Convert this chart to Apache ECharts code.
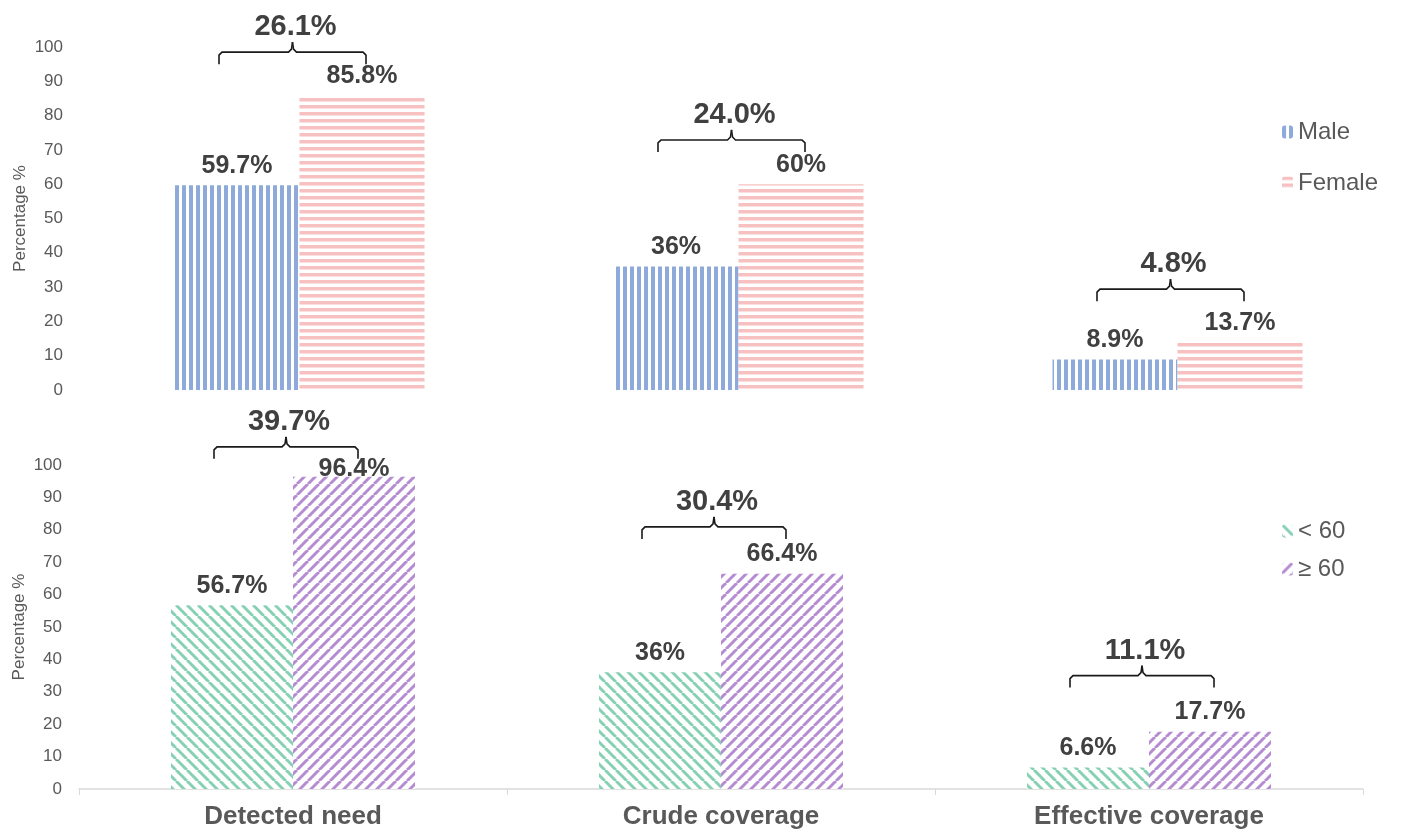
<!DOCTYPE html>
<html>
<head>
<meta charset="utf-8">
<script src="https://cdn.jsdelivr.net/npm/echarts@6/dist/echarts.min.js"></script>
<style>
html,body{margin:0;padding:0;background:#fff;}
#c{width:1401px;height:835px;}
</style>
</head>
<body>
<div id="c"></div>
<script>
// ---- data ----
const categories = ['Detected need', 'Crude coverage', 'Effective coverage'];
const yTicks = [0, 10, 20, 30, 40, 50, 60, 70, 80, 90, 100];
const maleValues = [59.7, 36, 8.9];
const femaleValues = [85.8, 60, 13.7];
const sexDiffLabels = ['26.1%', '24.0%', '4.8%'];
const sexBracketLevel = [98.5, 72.9, 29.4];
const under60Values = [56.7, 36, 6.6];
const over60Values = [96.4, 66.4, 17.7];
const ageDiffLabels = ['39.7%', '30.4%', '11.1%'];
const ageBracketLevel = [105.6, 80.9, 35];

// ---- patterns ----
function pattern(kind, color) {
  const c = document.createElement('canvas');
  let w = 7, h = 7;
  if (kind === 'diagR' || kind === 'diagL') { w = 11; h = 11; }
  c.width = w; c.height = h;
  const g = c.getContext('2d');
  g.fillStyle = '#ffffff'; g.fillRect(0, 0, w, h);
  g.fillStyle = color; g.strokeStyle = color;
  if (kind === 'vert') { g.fillRect(0, 0, 4, h); }
  else if (kind === 'horiz') { g.fillRect(0, 0, w, 3.5); }
  else {
    g.lineWidth = 3;
    for (let k = -1; k <= 1; k++) {
      g.beginPath();
      if (kind === 'diagR') { g.moveTo(k * w, 0); g.lineTo(k * w + w, h); }
      else { g.moveTo(k * w, h); g.lineTo(k * w + w, 0); }
      g.stroke();
    }
  }
  return { image: c, repeat: 'repeat' };
}
const FONT = "'Liberation Sans', Arial, sans-serif";
const TXT = '#595959';
const VAL = '#404040';

function barLabel() {
  return { show: true, position: 'top', distance: 7, fontFamily: FONT, fontSize: 25, fontWeight: 'bold', color: VAL, formatter: '{c}%' };
}

function bracket(barW, texts) {
  return function (params, api) {
    const p = api.coord([api.value(0), api.value(1)]);
    const cx = p[0], y = p[1];
    const xl = cx - barW / 2 - 18, xr = cx + barW / 2 + 4;
    const xm = (xl + xr) / 2;
    const st = { stroke: '#1a1a1a', lineWidth: 1.6, fill: null };
    return {
      type: 'group',
      children: [
        { type: 'polyline', shape: { points: [[xl, y + 12], [xl, y + 3], [xl + 3, y], [xm - 4, y], [xm - 1, y - 3], [xm, y - 10]] }, style: st },
        { type: 'polyline', shape: { points: [[xr, y + 12], [xr, y + 3], [xr - 3, y], [xm + 4, y], [xm + 1, y - 3], [xm, y - 10]] }, style: st },
        { type: 'text', x: xm + 3, y: y - 25, style: { text: texts[params.dataIndex], fontFamily: FONT, fontSize: 29, fontWeight: 'bold', fill: VAL, align: 'center', verticalAlign: 'middle' } }
      ]
    };
  };
}

const yAxisBase = (gi) => ({
  type: 'value', gridIndex: gi, min: yTicks[0], max: yTicks[yTicks.length - 1], interval: yTicks[1] - yTicks[0],
  name: 'Percentage %', nameLocation: 'middle', nameGap: 51, nameRotate: 90, nameMoveOverlap: false,
  nameTextStyle: { fontFamily: FONT, fontSize: 17, color: TXT },
  axisLine: { show: false }, axisTick: { show: false }, splitLine: { show: false },
  axisLabel: { fontFamily: FONT, fontSize: 17, color: TXT, margin: 17 }
});

const chart = echarts.init(document.getElementById('c'), null, { renderer: 'canvas' });
const bluePat = pattern('vert', '#8eaadb');
const pinkPat = pattern('horiz', '#f7c1c1');
const greenPat = pattern('diagR', '#86d0b4');
const purplePat = pattern('diagL', '#b58cd2');

const over60Data = over60Values.map((v, i) => i === 0 ? { value: v, label: { distance: -5 } } : v);

chart.setOption({
  animation: false,
  backgroundColor: '#ffffff',
  grid: [
    { left: 80, right: 4, top: 47, height: 343 },
    { left: 79, right: 38, top: 465, height: 324 }
  ],
  legend: [
    { data: ['Male', 'Female'], orient: 'vertical', left: 1277, top: 115, itemWidth: 11, itemHeight: 13, itemGap: 27, textStyle: { fontFamily: FONT, fontSize: 24, color: TXT } },
    { data: ['< 60', '≥ 60'], orient: 'vertical', left: 1277, top: 514, itemWidth: 11, itemHeight: 13, itemGap: 14, textStyle: { fontFamily: FONT, fontSize: 24, color: TXT } }
  ],
  xAxis: [
    { type: 'category', gridIndex: 0, data: categories, axisLine: { show: false }, axisTick: { show: false }, axisLabel: { show: false } },
    { type: 'category', gridIndex: 1, data: categories, axisLine: { show: true, lineStyle: { color: '#d9d9d9', width: 1.5 } }, axisTick: { show: true, length: 6, lineStyle: { color: '#d9d9d9' } },
      axisLabel: { fontFamily: FONT, fontSize: 26, fontWeight: 'bold', color: TXT, margin: 15 } }
  ],
  yAxis: [yAxisBase(0), yAxisBase(1)],
  series: [
    { name: 'Male', type: 'bar', xAxisIndex: 0, yAxisIndex: 0, barWidth: 125, barGap: '0%', data: maleValues, itemStyle: { color: bluePat }, label: barLabel() },
    { name: 'Female', type: 'bar', xAxisIndex: 0, yAxisIndex: 0, barWidth: 125, barGap: '0%', data: femaleValues, itemStyle: { color: pinkPat }, label: barLabel() },
    { name: 'sexBracket', type: 'custom', xAxisIndex: 0, yAxisIndex: 0, clip: false, silent: true, z: 5,
      data: sexBracketLevel.map((v, i) => [i, v]), encode: { x: 0, y: 1 }, renderItem: bracket(125, sexDiffLabels) },
    { name: '< 60', type: 'bar', xAxisIndex: 1, yAxisIndex: 1, barWidth: 122, barGap: '0%', data: under60Values, itemStyle: { color: greenPat }, label: barLabel() },
    { name: '≥ 60', type: 'bar', xAxisIndex: 1, yAxisIndex: 1, barWidth: 122, barGap: '0%', data: over60Data, itemStyle: { color: purplePat }, label: barLabel() },
    { name: 'ageBracket', type: 'custom', xAxisIndex: 1, yAxisIndex: 1, clip: false, silent: true, z: 5,
      data: ageBracketLevel.map((v, i) => [i, v]), encode: { x: 0, y: 1 }, renderItem: bracket(122, ageDiffLabels) }
  ]
});
</script>
</body>
</html>
